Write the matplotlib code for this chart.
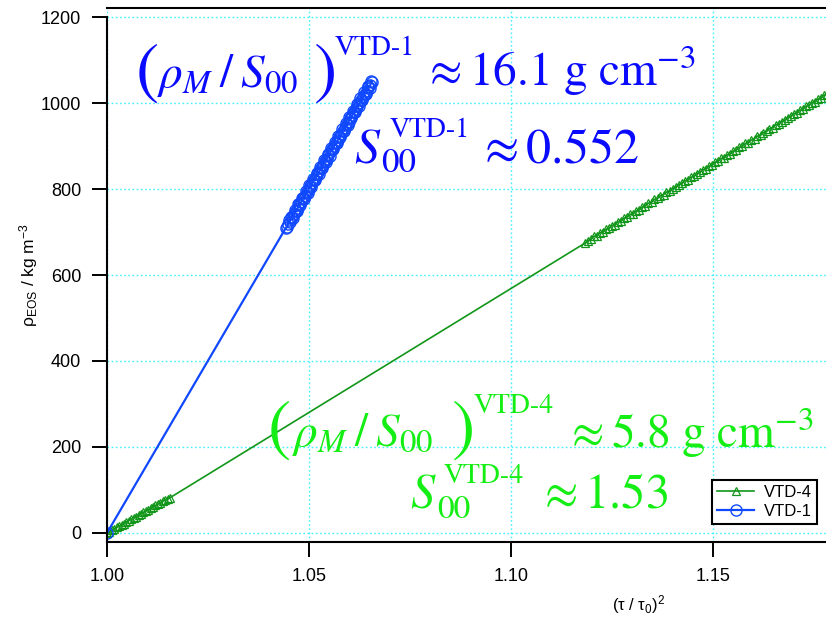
import matplotlib
matplotlib.use('Agg')
import matplotlib.pyplot as plt

# ============================================================
# DATA
# ============================================================
vtd1_x = [1.0000,
          1.0443, 1.0446, 1.0448, 1.0450, 1.0452, 1.0455, 1.0458, 1.0460,
          1.0463, 1.0465, 1.0467, 1.0470, 1.0472, 1.0474, 1.0476, 1.0479,
          1.0481, 1.0483, 1.0485, 1.0488, 1.0490, 1.0492, 1.0494, 1.0497,
          1.0499, 1.0501, 1.0503, 1.0506, 1.0508, 1.0510, 1.0512, 1.0515,
          1.0517, 1.0519, 1.0521, 1.0524, 1.0526, 1.0528, 1.0530, 1.0533,
          1.0535, 1.0537, 1.0539, 1.0542, 1.0544, 1.0546, 1.0548, 1.0551,
          1.0553, 1.0555, 1.0557, 1.0560, 1.0562, 1.0564, 1.0566, 1.0569,
          1.0571, 1.0573, 1.0575, 1.0578, 1.0580, 1.0582, 1.0584, 1.0587,
          1.0589, 1.0591, 1.0593, 1.0596, 1.0598, 1.0600, 1.0602, 1.0605,
          1.0607, 1.0609, 1.0611, 1.0614, 1.0616, 1.0618, 1.0620, 1.0623,
          1.0625, 1.0627, 1.0629, 1.0632, 1.0634, 1.0636, 1.0638, 1.0641,
          1.0643, 1.0645, 1.0647, 1.0650, 1.0652, 1.0654, 1.0655]
vtd1_y = [0,
          710, 711, 719, 727, 723, 734, 736, 732,
          741, 751, 750, 748, 755, 766, 765, 763,
          770, 780, 779, 777, 784, 795, 793, 791,
          799, 809, 808, 805, 813, 824, 822, 820,
          827, 838, 836, 834, 842, 852, 850, 848,
          856, 867, 865, 863, 870, 881, 879, 877,
          885, 896, 893, 892, 899, 910, 908, 906,
          913, 924, 922, 921, 928, 939, 936, 935,
          942, 953, 951, 949, 956, 968, 965, 964,
          971, 982, 979, 978, 985, 997, 994, 993,
          999, 1011, 1008, 1007, 1014, 1026, 1022, 1022,
          1028, 1040, 1037, 1036, 1042, 1052, 1050]

vtd4_x = [1.0000, 1.0006, 1.0012, 1.0018, 1.0024, 1.0030, 1.0036, 1.0042,
          1.0048, 1.0054, 1.0060, 1.0066, 1.0072, 1.0078, 1.0084, 1.0090,
          1.0096, 1.0102, 1.0108, 1.0114, 1.0120, 1.0126, 1.0132, 1.0138,
          1.0144, 1.0150, 1.0156,
          1.1183, 1.1190, 1.1198, 1.1205, 1.1213, 1.1220, 1.1228, 1.1235,
          1.1243, 1.1250, 1.1258, 1.1265, 1.1273, 1.1280, 1.1288, 1.1295,
          1.1303, 1.1310, 1.1318, 1.1325, 1.1333, 1.1340, 1.1348, 1.1355,
          1.1363, 1.1370, 1.1378, 1.1385, 1.1393, 1.1400, 1.1408, 1.1415,
          1.1423, 1.1430, 1.1438, 1.1445, 1.1453, 1.1460, 1.1468, 1.1475,
          1.1483, 1.1490, 1.1498, 1.1505, 1.1513, 1.1520, 1.1528, 1.1535,
          1.1543, 1.1550, 1.1558, 1.1565, 1.1573, 1.1580, 1.1588, 1.1595,
          1.1603, 1.1610, 1.1618, 1.1625, 1.1633, 1.1640, 1.1648, 1.1655,
          1.1663, 1.1670, 1.1678, 1.1685, 1.1693, 1.1700, 1.1708, 1.1715,
          1.1723, 1.1730, 1.1738, 1.1745, 1.1753, 1.1760, 1.1768, 1.1775,
          1.1783, 1.1790, 1.1798]
vtd4_y = [0, 3, 6, 10, 13, 16, 19, 22,
          26, 29, 32, 35, 38, 42, 45, 48,
          51, 54, 58, 61, 64, 67, 70, 74,
          77, 80, 82,
          674, 680, 683, 690, 691, 698, 700, 706,
          709, 715, 717, 724, 726, 732, 735, 741,
          743, 749, 752, 758, 761, 767, 769, 776,
          778, 784, 787, 793, 795, 801, 804, 810,
          813, 819, 821, 827, 830, 836, 839, 845,
          847, 853, 856, 862, 865, 871, 873, 879,
          882, 888, 891, 897, 899, 906, 908, 914,
          917, 923, 925, 931, 934, 940, 943, 949,
          951, 957, 960, 966, 969, 975, 977, 983,
          986, 992, 995, 1001, 1003, 1009, 1012, 1018,
          1021, 1026, 1029]

x_ticks = [1.00, 1.05, 1.10, 1.15]
x_ticklabels = ['1.00', '1.05', '1.10', '1.15']
y_ticks = [0, 200, 400, 600, 800, 1000, 1200]

# ============================================================
# STYLE
# ============================================================
plt.rcParams['font.family'] = ['Liberation Sans', 'DejaVu Sans']
plt.rcParams['mathtext.fontset'] = 'custom'
plt.rcParams['mathtext.rm'] = 'Liberation Sans'
plt.rcParams['mathtext.it'] = 'Liberation Sans:italic'
plt.rcParams['mathtext.sf'] = 'Liberation Sans'

W, H = 826, 622
BLUE = '#1048ff'
GREEN = '#11961a'
TXT_BLUE = '#0a0aff'
TXT_GREEN = '#14ee14'
GRID = '#40f0ff'

fig = plt.figure(figsize=(W / 100, H / 100), dpi=100)
ax = fig.add_axes([107 / W, 80 / H, 719 / W, 534 / H])

ax.plot(vtd4_x, vtd4_y, '-', color=GREEN, linewidth=1.2,
        marker='^', markersize=6, markerfacecolor='none',
        markeredgewidth=0.9, label='VTD-4')
ax.plot(vtd1_x, vtd1_y, '-', color=BLUE, linewidth=1.6,
        marker='o', markersize=8, markerfacecolor='none',
        markeredgewidth=1.0, label='VTD-1')

ax.set_xlim(1.0, 1.178)
ax.set_ylim(-21, 1221)
ax.set_xticks(x_ticks)
ax.set_xticklabels(x_ticklabels)
ax.set_yticks(y_ticks)
ax.tick_params(direction='out', length=10.5, width=1.4, labelsize=13, pad=8)

ax.grid(True, color=GRID, linestyle=(0, (1.2, 1.8)), linewidth=1.0)
ax.set_axisbelow(True)

for s in ['left', 'bottom', 'top']:
    ax.spines[s].set_linewidth(1.5)
ax.spines['right'].set_visible(False)
ax.spines['left'].set_bounds(-21, 1200)

ax.set_xlabel('(τ / τ$_0$)$^2$', fontsize=12)
ax.xaxis.set_label_coords(0.74, -0.095)
ax.set_ylabel('ρ$_{\\rm EOS}$ / kg m$^{-3}$', fontsize=12.5)
ax.yaxis.set_label_coords(-0.093, 0.5)

leg = ax.legend(loc='lower right', bbox_to_anchor=(0.9875, 0.0337),
                borderaxespad=0, fancybox=False, edgecolor='black',
                fontsize=12, labelspacing=0.25, handlelength=2.2,
                borderpad=0.3, handletextpad=0.6)
leg.get_frame().set_linewidth(1.5)
leg.get_frame().set_alpha(1)


# ============================================================
# ANNOTATIONS (placed in pixel coordinates of the figure)
# ============================================================
def put(px, py, s, size, color, va='baseline'):
    fig.text(px / W, 1 - py / H, s, fontsize=size, color=color,
             family='STIXGeneral', math_fontfamily='stix',
             ha='left', va=va)


inner = r'$\rho_M\:/\:S_{00}$'

# VTD-1
put(136, 74, '(', 50, TXT_BLUE, va='center')
put(157, 87, inner, 34, TXT_BLUE)
put(314, 74, ')', 50, TXT_BLUE, va='center')
put(335, 55, 'VTD-1', 20, TXT_BLUE)
put(423, 86, r'$\approx 16.1\ \mathrm{g\ cm^{-3}}$', 34, TXT_BLUE)

put(354, 162, r'$S$', 36, TXT_BLUE)
put(381, 172, '00', 25, TXT_BLUE)
put(390, 137, 'VTD-1', 20, TXT_BLUE)
put(477, 162, r'$\approx 0.552$', 36, TXT_BLUE)

# VTD-4
put(268, 431, '(', 50, TXT_GREEN, va='center')
put(292, 446, inner, 34, TXT_GREEN)
put(452, 431, ')', 50, TXT_GREEN, va='center')
put(474, 413, 'VTD-4', 20, TXT_GREEN)
put(565, 448, r'$\approx 5.8\ \mathrm{g\ cm^{-3}}$', 34, TXT_GREEN)

put(410, 508, r'$S$', 35, TXT_GREEN)
put(437, 518, '00', 24, TXT_GREEN)
put(444, 483, 'VTD-4', 20, TXT_GREEN)
put(537, 508, r'$\approx 1.53$', 35, TXT_GREEN)

fig.savefig('out.png', dpi=100)
